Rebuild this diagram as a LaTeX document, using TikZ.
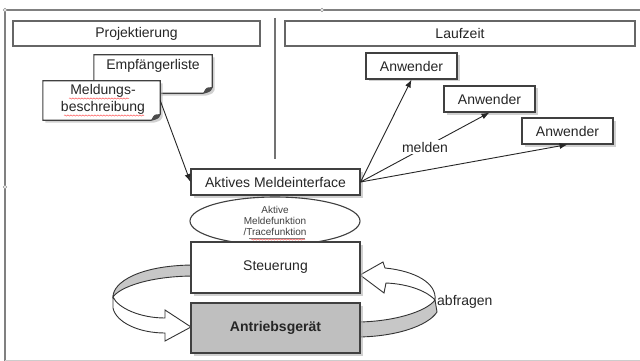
\documentclass[tikz,border=0pt]{standalone}
\usepackage{fontspec}
\setmainfont{Liberation Sans}
\usetikzlibrary{arrows.meta,shadows,shapes.geometric,decorations.pathmorphing}

% folded-corner note outline around a named (invisible) node
\newcommand\drawnote[1]{%
  \filldraw[notestyle]
    (#1.north west) -- (#1.north east) -- ([yshift=6pt]#1.south east)
    .. controls ([xshift=-2pt,yshift=2pt]#1.south east) .. ([xshift=-9pt]#1.south east)
    -- (#1.south west) -- cycle;
  \fill[black!70]
    ([yshift=6pt]#1.south east)
    .. controls ([xshift=-6pt,yshift=6pt]#1.south east) .. ([xshift=-9pt]#1.south east)
    .. controls ([xshift=-3pt,yshift=1pt]#1.south east) .. cycle;
}

\begin{document}
\begin{tikzpicture}[x=1pt,y=-1pt,
  txt/.style={text=black!85, font=\fontsize{14}{17}\selectfont},
  hdr/.style={draw=black!60, line width=1.3pt, fill=white, inner sep=0pt, txt},
  shad/.style={drop shadow={shadow xshift=2.5pt, shadow yshift=-2.5pt, fill=black!30, opacity=0.6}},
  box/.style={draw=black!75, line width=1.1pt, fill=white, inner sep=0pt, txt, shad},
  notestyle/.style={fill=white, draw=black!75, line width=1.1pt, shad},
  arr/.style={draw=black!85, line width=0.9pt, -{Latex[length=8pt,width=6pt]}},
  ribbon/.style={draw=black!80, line width=0.9pt},
  squiggle/.style={red!65, line width=0.5pt, decorate,
    decoration={snake, segment length=3pt, amplitude=0.6pt}},
]
\fill[white] (0,0) rectangle (640,361);
\useasboundingbox (0,0) rectangle (640,361);

% canvas frame with handles
\draw[black!50, line width=1.5pt] (5,361) -- (5,10) -- (640,10);
\draw[black!20, line width=0.8pt] (5,360) -- (640,360);
\foreach \p in {(5,10),(322,10),(5,187)}
  \filldraw[fill=white, draw=black!45, line width=0.5pt] \p circle (1.8);

% section headers and divider
\node[hdr, minimum width=247pt, minimum height=25pt] (proj) at (136.5,33.5) {Projektierung};
\node[hdr, minimum width=350pt, minimum height=25pt] (lauf) at (460,33.5) {Laufzeit};
\draw[black!55, line width=1.3pt] (275,18) -- (275,159);

% notes
\node[minimum width=118pt, minimum height=38pt, inner sep=0pt] (empf) at (153,74) {};
\drawnote{empf}
\node[txt] (empftxt) at (153,66) {Empfängerliste};

\node[minimum width=117pt, minimum height=39pt, inner sep=0pt] (meld) at (101.5,100.5) {};
\drawnote{meld}
\node[txt, align=center] (meldtxt) at (103,99.5) {Meldungs-\\beschreibung};
\draw[squiggle] (69,98.5) -- (129,98.5);
\draw[squiggle] (64,115.5) -- (144,115.5);

% users
\node[box, minimum width=91pt, minimum height=26pt] (anw1) at (411.5,66) {Anwender};
\node[box, minimum width=91pt, minimum height=26pt] (anw2) at (489.5,99) {Anwender};
\node[box, minimum width=91pt, minimum height=26pt] (anw3) at (567.5,131) {Anwender};

% left circular ribbon (behind the stack)
\filldraw[ribbon, fill=black!22]
  (195,265) .. controls (140,265) and (113,282) .. (113,297)
  .. controls (120,287) and (150,276) .. (195,276) -- cycle;
\filldraw[ribbon, fill=white]
  (113,297) .. controls (118,308) and (140,318) .. (165,318)
  -- (165,310) -- (191,327) -- (165,341) -- (165,333)
  .. controls (138,333) and (116,322) .. (113,308) -- cycle;

% right circular ribbon
\filldraw[ribbon, fill=black!22]
  (356,322) .. controls (392,322) and (426,312) .. (435,300)
  -- (437,312) .. controls (428,326) and (395,337) .. (356,337) -- cycle;
\filldraw[ribbon, fill=white]
  (435,300) .. controls (428,292) and (410,284) .. (386,283)
  -- (384,293) -- (360,275) -- (383,262) -- (385,268)
  .. controls (415,271) and (437,283) .. (435,300) -- cycle;
\node[txt, anchor=west, inner sep=0pt] (abfr) at (437,302) {abfragen};

% central stack
\node[box, minimum width=169pt, minimum height=26pt] (ami) at (275.5,182) {Aktives Meldeinterface};
\node[draw=black!75, line width=1.1pt, fill=white, ellipse, inner sep=0pt,
      minimum width=170pt, minimum height=48pt, text=black!75, align=center,
      font=\fontsize{10}{11}\selectfont] (mf) at (275,221)
      {Aktive\\Meldefunktion\\/Tracefunktion};
\draw[black!50, line width=0.4pt] (249,238.5) -- (305,238.5);
\draw[squiggle] (251,239.5) -- (305,239.5);
\node[box, minimum width=169pt, minimum height=51pt] (steu) at (275.5,267.5) {Steuerung};
\node[box, fill=black!25, minimum width=169pt, minimum height=50pt,
      font=\fontsize{14}{17}\selectfont\bfseries, text=black!85] (antr) at (275.5,328) {Antriebsgerät};

% connectors
\draw[arr] (meld.east) -- (ami.west);
\draw[arr] (ami.east) -- (anw1.south);
\draw[arr] (ami.east) -- node[txt, fill=white, inner sep=2pt] (meldlbl) {melden} (anw2.south);
\draw[arr] (ami.east) -- (anw3.south);
\end{tikzpicture}
\end{document}
